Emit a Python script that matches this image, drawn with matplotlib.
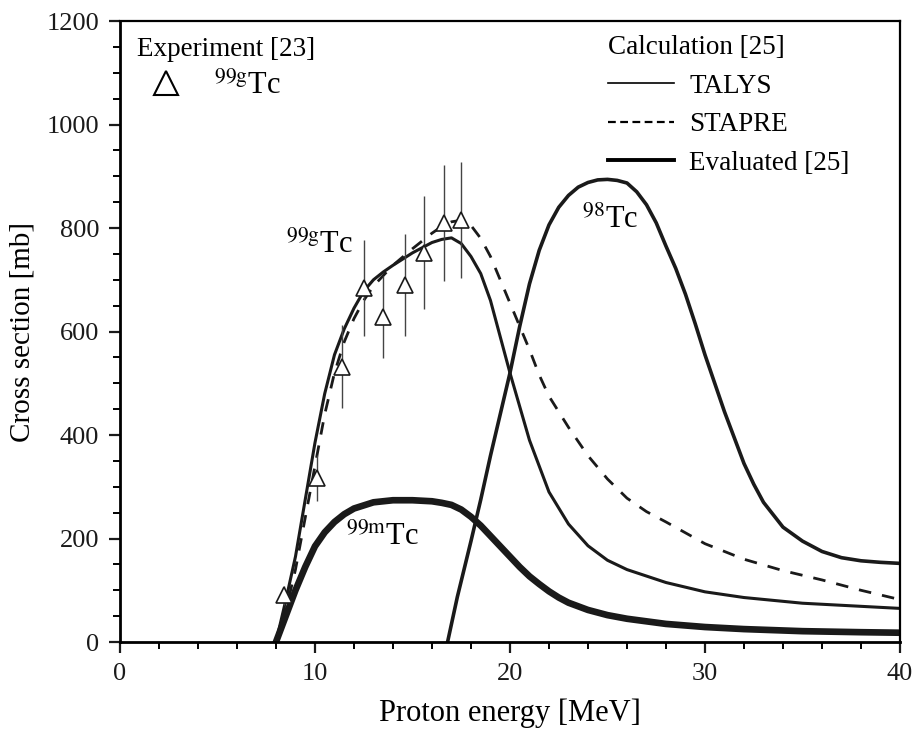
import matplotlib
matplotlib.use("Agg")
import matplotlib.pyplot as plt
from matplotlib.lines import Line2D

plt.rcParams['font.family'] = ['Liberation Serif', 'DejaVu Serif']
plt.rcParams['mathtext.fontset'] = 'stix'

# 99gTc, TALYS
e_talys = [8, 8.5, 9, 9.5, 10, 10.5, 11, 11.5, 12, 12.5, 13, 13.5, 14, 14.5, 15, 15.5, 16, 16.5,
           17, 17.5, 18, 18.5, 19, 19.5, 20, 21, 22, 23, 24, 25, 26, 28, 30, 32, 35, 38, 40]
s_talys = [0, 80, 165, 275, 385, 480, 555, 605, 645, 678, 700, 715, 728, 740, 752, 762, 772, 778,
           781, 770, 745, 712, 660, 590, 520, 390, 290, 228, 186, 158, 140, 115, 97, 86, 75, 69, 65]

# 99gTc, STAPRE
e_stapre = [8, 8.5, 9, 9.5, 10, 10.5, 11, 11.5, 12, 12.5, 13, 14, 15, 16, 16.5, 17, 17.5, 18, 18.5,
            19, 19.5, 20, 20.5, 21, 21.5, 22, 23, 24, 25, 26, 27, 28, 30, 32, 34, 36, 38, 40]
s_stapre = [0, 60, 140, 240, 340, 440, 520, 580, 625, 660, 688, 728, 760, 790, 803, 812, 815, 805, 780,
            745, 700, 655, 610, 565, 516, 475, 415, 360, 315, 278, 252, 232, 190, 160, 138, 120, 100, 82]

# 98Tc, evaluated
e_98 = [16.8, 17.3, 18, 18.5, 19, 19.5, 20, 20.5, 21, 21.5, 22, 22.5, 23, 23.5, 24, 24.5, 25, 25.5,
        26, 26.5, 27, 27.5, 28, 28.5, 29, 29.5, 30, 30.5, 31, 31.5, 32, 32.5, 33, 34, 35, 36, 37,
        38, 39, 40]
s_98 = [0, 87, 195, 275, 360, 440, 520, 610, 692, 757, 806, 840, 863, 879, 888, 893, 894, 892,
        887, 870, 845, 810, 765, 722, 672, 615, 555, 500, 445, 395, 345, 305, 270, 222, 195, 175, 163,
        157, 154, 152]

# 99mTc, evaluated
e_99m = [8, 8.5, 9, 9.5, 10, 10.5, 11, 11.5, 12, 13, 14, 15, 16, 16.5, 17, 17.5, 18, 18.5, 19,
         19.5, 20, 20.5, 21, 21.5, 22, 22.5, 23, 24, 25, 26, 28, 30, 32, 35, 38, 40]
s_99m = [0, 50, 100, 145, 185, 212, 232, 247, 258, 270, 274, 274, 272, 269, 265, 256, 242, 225, 205,
         185, 165, 145, 127, 112, 98, 86, 76, 62, 52, 45, 35, 29, 25, 21, 19, 18]

# experiment [23], 99gTc
e_exp = [8.4, 10.1, 11.4, 12.5, 13.5, 14.6, 15.6, 16.6, 17.5]
s_exp = [90, 317, 532, 684, 628, 690, 752, 810, 815]
err_exp = [18, 44, 80, 92, 80, 98, 109, 112, 112]

fig = plt.figure(figsize=(9.15, 7.3), dpi=100)
ax = fig.add_axes([0.1311, 0.1205, 0.8525, 0.8507])

ax.plot(e_talys, s_talys, color='#1a1a1a', lw=2.2)
ax.plot(e_stapre, s_stapre, color='#1a1a1a', lw=2.0, dashes=(4.5, 4))
ax.plot(e_98, s_98, color='#1a1a1a', lw=2.6)
ax.plot(e_99m, s_99m, color='#1a1a1a', lw=4.8)
ax.errorbar(e_exp, s_exp, yerr=err_exp, fmt='^', ms=12, mfc='white', mec='#1a1a1a', mew=1.2,
            ecolor='#444444', elinewidth=1.0, capsize=0, zorder=5)

ax.set_xlim(0, 40)
ax.set_ylim(0, 1200)
ax.set_xticks([0, 10, 20, 30, 40])
ax.set_xticks(range(0, 41, 2), minor=True)
ax.set_yticks(range(0, 1201, 200))
ax.set_yticks(range(0, 1201, 50), minor=True)
ax.tick_params(axis='both', which='major', direction='out', length=8, width=1.6, labelsize=19,
               pad=7, colors='#1a1a1a')
ax.tick_params(axis='both', which='minor', direction='out', length=5, width=1.4)
for side in ['left', 'bottom']:
    ax.spines[side].set_linewidth(2.0)
for side in ['top', 'right']:
    ax.spines[side].set_linewidth(1.6)

ax.set_xlabel('Proton energy [MeV]', fontsize=22, labelpad=10)
ax.set_ylabel('Cross section [mb]', fontsize=21, labelpad=8)

ax.text(8.5, 767, r'$^{\mathrm{99g}}$Tc', fontsize=22, ha='left', va='center')
ax.text(23.7, 815, r'$^{\mathrm{98}}$Tc', fontsize=22, ha='left', va='center')
ax.text(11.6, 203, r'$^{\mathrm{99m}}$Tc', fontsize=22, ha='left', va='center')

# experiment legend
h_exp = Line2D([], [], ls='none', marker='^', ms=17, mfc='white', mec='black', mew=1.5)
leg1 = ax.legend([h_exp], [r'$^{\mathrm{99g}}$Tc'], title='Experiment [23]', loc='upper left',
                 bbox_to_anchor=(-0.005, 1.008), frameon=False, fontsize=22, title_fontsize=19.5,
                 alignment='left', handlelength=1.9, handletextpad=0.6, borderaxespad=0.4,
                 borderpad=0.3, labelspacing=0.3)
ax.add_artist(leg1)

# calculation legend
h_calc = [Line2D([], [], color='black', lw=1.2),
          Line2D([], [], color='black', lw=1.6, dashes=(3.5, 2)),
          Line2D([], [], color='black', lw=2.8)]
ax.legend(h_calc, ['TALYS', 'STAPRE', 'Evaluated [25]'], title='Calculation [25]',
          loc='upper left', bbox_to_anchor=(0.598, 1.012), frameon=False, fontsize=19.5,
          title_fontsize=19.5, alignment='left', handlelength=2.45, handletextpad=0.55,
          labelspacing=0.5, borderpad=0.3)

fig.savefig('out.png', dpi=100)
